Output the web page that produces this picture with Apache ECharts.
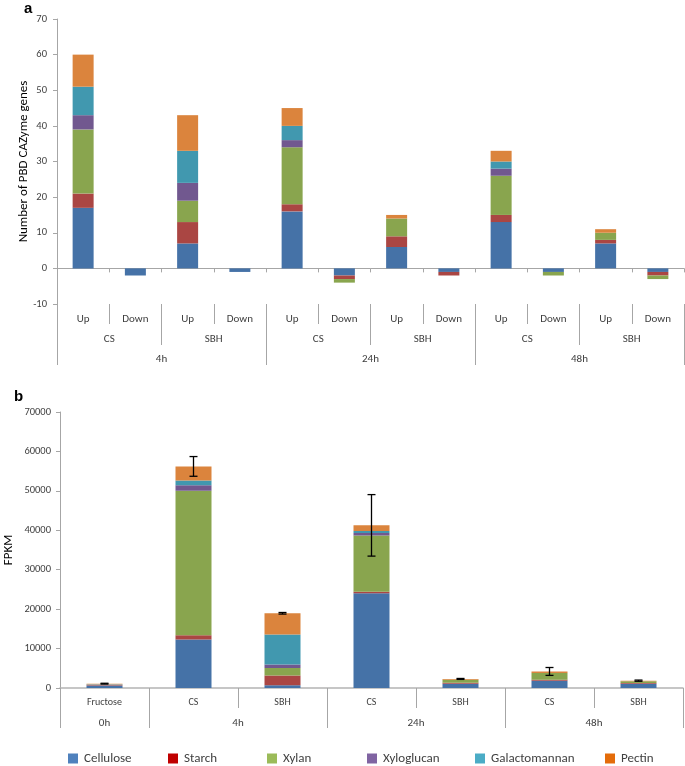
<!DOCTYPE html>
<html>
<head>
<meta charset="utf-8">
<script src="https://cdn.jsdelivr.net/npm/echarts@6/dist/echarts.min.js"></script>
<style>
html,body{margin:0;padding:0;background:#fff;}
#c{width:685px;height:766px;}
</style>
</head>
<body>
<div id="c"></div>
<script>
// ---------- DATA ----------
var seriesNames = ['Cellulose', 'Starch', 'Xylan', 'Xyloglucan', 'Galactomannan', 'Pectin'];

// Panel a: 12 categories (time / substrate / direction)
var aLevel1 = ['Up', 'Down', 'Up', 'Down', 'Up', 'Down', 'Up', 'Down', 'Up', 'Down', 'Up', 'Down'];
var aLevel2 = ['CS', 'SBH', 'CS', 'SBH', 'CS', 'SBH'];
var aLevel3 = ['4h', '24h', '48h'];
var aCellulose     = [17, -2, 7, -1, 16, -2, 6, -1, 13, -1, 7, -1];
var aStarch        = [4, 0, 6, 0, 2, -1, 3, -1, 2, 0, 1, -1];
var aXylan         = [18, 0, 6, 0, 16, -1, 5, 0, 11, -1, 2, -1];
var aXyloglucan    = [4, 0, 5, 0, 2, 0, 0, 0, 2, 0, 0, 0];
var aGalactomannan = [8, 0, 9, 0, 4, 0, 0, 0, 2, 0, 0, 0];
var aPectin        = [9, 0, 10, 0, 5, 0, 1, 0, 3, 0, 1, 0];
var aYTicks = {min: -10, max: 70, interval: 10};

// Panel b: 7 categories
var bLevel1 = ['Fructose', 'CS', 'SBH', 'CS', 'SBH', 'CS', 'SBH'];
var bGroups = ['0h', '4h', '24h', '48h'];
var bGroupSizes = [1, 2, 2, 2];
var bCellulose     = [650, 12300, 700, 24000, 1100, 1850, 1100];
var bStarch        = [80, 1100, 2500, 400, 200, 250, 170];
var bXylan         = [100, 36600, 1900, 14300, 800, 1700, 420];
var bXyloglucan    = [40, 1400, 850, 600, 0, 0, 0];
var bGalactomannan = [50, 1200, 7600, 500, 0, 0, 0];
var bPectin        = [180, 3600, 5400, 1450, 200, 400, 170];
var bError         = [100, 2500, 200, 7800, 120, 1000, 150];
var bYTicks = {min: 0, max: 70000, interval: 10000};

// ---------- STYLE ----------
var barColors = ['#4572a7', '#aa4643', '#89a54e', '#71588f', '#4198af', '#db843d'];
var legendColors = ['#4f81bd', '#c00000', '#9bbb59', '#8064a2', '#4bacc6', '#e46c0a'];
var legendLeft = [68, 168, 267, 367, 475, 605];
var FONT = "Carlito, 'Liberation Sans', Arial, sans-serif";
var axisGray = '#a6a6a6';
var txt = '#404040';

var aData = [aCellulose, aStarch, aXylan, aXyloglucan, aGalactomannan, aPectin];
var bData = [bCellulose, bStarch, bXylan, bXyloglucan, bGalactomannan, bPectin];

// group tick/label positions for panel b level 2 (value axis 0..N)
var bGroupTicks = [0];
var bGroupCenters = [];
var acc = 0;
bGroupSizes.forEach(function (s) { bGroupCenters.push(acc + s / 2); acc += s; bGroupTicks.push(acc); });

var totals = bLevel1.map(function (_, i) {
  return bData.reduce(function (s, arr) { return s + arr[i]; }, 0);
});
var errData = bLevel1.map(function (_, i) { return [i, totals[i] - bError[i], totals[i] + bError[i]]; });

var chart = echarts.init(document.getElementById('c'), null, {renderer: 'canvas'});

var series = [];
seriesNames.forEach(function (n, k) {
  series.push({
    name: n, type: 'bar', stack: 'a', xAxisIndex: 0, yAxisIndex: 0,
    barWidth: 21, data: aData[k], itemStyle: {color: barColors[k]}, animation: false
  });
});
seriesNames.forEach(function (n, k) {
  series.push({
    name: n, type: 'bar', stack: 'b', xAxisIndex: 4, yAxisIndex: 1,
    barWidth: 36, data: bData[k], itemStyle: {color: barColors[k]}, animation: false
  });
});
series.push({
  type: 'custom', xAxisIndex: 4, yAxisIndex: 1, data: errData, z: 10, animation: false,
  encode: {x: 0, y: [1, 2]},
  renderItem: function (params, api) {
    var lo = api.coord([api.value(0), api.value(1)]);
    var hi = api.coord([api.value(0), api.value(2)]);
    var w = 4;
    var st = {stroke: '#000', lineWidth: 1.3};
    return {type: 'group', children: [
      {type: 'line', shape: {x1: lo[0], y1: lo[1], x2: hi[0], y2: hi[1]}, style: st},
      {type: 'line', shape: {x1: lo[0] - w, y1: lo[1], x2: lo[0] + w, y2: lo[1]}, style: st},
      {type: 'line', shape: {x1: hi[0] - w, y1: hi[1], x2: hi[0] + w, y2: hi[1]}, style: st}
    ]};
  }
});

var legends = seriesNames.map(function (n, k) {
  return {
    left: legendLeft[k], top: 752, padding: 0, icon: 'rect', itemWidth: 10, itemHeight: 10,
    data: [{name: n, itemStyle: {color: legendColors[k]}}],
    textStyle: {fontFamily: FONT, fontSize: 13, color: txt, padding: [0, 0, 0, 1]},
    selectedMode: false
  };
});

function labelAxis(gridIndex, data, tickLen, margin) {
  return {
    type: 'category', gridIndex: gridIndex, position: 'bottom', data: data,
    axisLine: {show: false, onZero: false},
    axisTick: {show: true, length: tickLen, interval: 0, lineStyle: {color: axisGray}},
    axisLabel: {show: true, interval: 0, margin: margin, fontFamily: FONT, fontSize: 11, color: txt},
    splitLine: {show: false}
  };
}

var option = {
  backgroundColor: '#fff',
  textStyle: {fontFamily: FONT},
  animation: false,
  legend: legends,
  graphic: [
    {type: 'text', left: 24, top: 1, style: {text: 'a', font: "bold 15px 'Liberation Sans', Arial, sans-serif", fill: '#000'}},
    {type: 'text', left: 14, top: 389, style: {text: 'b', font: "bold 15px 'Liberation Sans', Arial, sans-serif", fill: '#000'}}
  ],
  grid: [
    {left: 57, top: 19, width: 627, height: 285, containLabel: false, outerBoundsMode: 'none'},
    {left: 60, top: 412, width: 623, height: 276, containLabel: false, outerBoundsMode: 'none'}
  ],
  xAxis: [
    {
      type: 'category', gridIndex: 0, data: aLevel1, position: 'bottom',
      axisLine: {show: true, onZero: true, lineStyle: {color: axisGray, width: 1}},
      axisTick: {show: true, length: 4, interval: 0, lineStyle: {color: axisGray}},
      axisLabel: {show: false}, splitLine: {show: false}
    },
    labelAxis(0, aLevel1, 20, 10),
    labelAxis(0, aLevel2, 41, 30),
    labelAxis(0, aLevel3, 61, 50),
    {
      type: 'category', gridIndex: 1, data: bLevel1, position: 'bottom',
      axisLine: {show: true, onZero: false, lineStyle: {color: '#b4b4b4', width: 1.5}},
      axisTick: {show: true, length: 20, interval: 0, lineStyle: {color: axisGray}},
      axisLabel: {show: true, interval: 0, margin: 9, fontFamily: FONT, fontSize: 10, color: txt},
      splitLine: {show: false}
    },
    {
      type: 'value', gridIndex: 1, position: 'bottom', min: 0, max: bGroupTicks[bGroupTicks.length - 1],
      axisLine: {show: false, onZero: false},
      axisTick: {show: true, length: 40, customValues: bGroupTicks, lineStyle: {color: axisGray}},
      axisLabel: {
        show: true, margin: 30, customValues: bGroupCenters, fontFamily: FONT, fontSize: 11, color: txt,
        formatter: function (v) {
          var i = bGroupCenters.indexOf(v);
          return i >= 0 ? bGroups[i] : '';
        }
      },
      splitLine: {show: false}
    }
  ],
  yAxis: [
    {
      type: 'value', gridIndex: 0, min: aYTicks.min, max: aYTicks.max, interval: aYTicks.interval,
      name: 'Number of PBD CAZyme genes', nameLocation: 'middle', nameGap: 27, nameMoveOverlap: false,
      nameTextStyle: {fontFamily: FONT, fontSize: 13, color: '#000'},
      axisLine: {show: true, onZero: false, lineStyle: {color: axisGray}},
      axisTick: {show: true, length: 4, lineStyle: {color: axisGray}},
      axisLabel: {margin: 10, fontFamily: FONT, fontSize: 10.5, color: txt},
      splitLine: {show: false}
    },
    {
      type: 'value', gridIndex: 1, min: bYTicks.min, max: bYTicks.max, interval: bYTicks.interval,
      name: 'FPKM', nameLocation: 'middle', nameGap: 45, nameMoveOverlap: false,
      nameTextStyle: {fontFamily: FONT, fontSize: 13, color: '#000'},
      axisLine: {show: true, onZero: false, lineStyle: {color: axisGray}},
      axisTick: {show: true, length: 4, lineStyle: {color: axisGray}},
      axisLabel: {margin: 9, fontFamily: FONT, fontSize: 10.5, color: txt, formatter: function (v) { return String(v); }},
      splitLine: {show: false}
    }
  ],
  series: series
};
chart.setOption(option);
</script>
</body>
</html>
